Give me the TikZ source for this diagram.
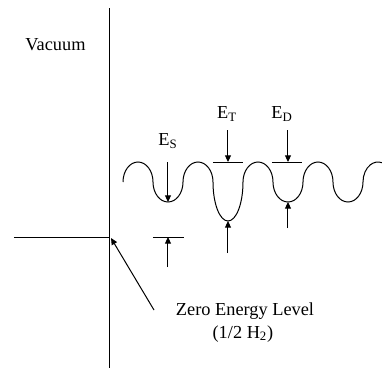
\documentclass[tikz,border=0pt]{standalone}
\usepackage{fontspec}
\setmainfont{Liberation Serif}
\usetikzlibrary{arrows.meta, positioning}

\begin{document}
\begin{tikzpicture}[
    x=0.6pt, y=0.6pt,
    line width=0.6pt,
    arrow/.style={-{Triangle[length=4pt, width=3.6pt]}},
    label/.style={font=\fontsize{11}{13.8}\selectfont, inner sep=0pt}
]
    \useasboundingbox (0,0) rectangle (382,-368);

    % Axis and zero level
    \coordinate (axtop) at (110,-8);
    \coordinate (axbot) at (110,-368);
    \coordinate (zero) at (110,-237);
    \coordinate (zeroleft) at (14,-237);
    \draw (axtop) -- (axbot);
    \draw (zeroleft) -- (zero);

    \node[label, anchor=base west] (vac) at (25,-50) {Vacuum};

    % Potential wells
    \draw (123,-182)
        arc[start angle=180, end angle=0, x radius=15, y radius=20]
        arc[start angle=180, end angle=360, x radius=15, y radius=20]
        arc[start angle=180, end angle=0, x radius=15, y radius=20]
        arc[start angle=180, end angle=360, x radius=15, y radius=39]
        arc[start angle=180, end angle=0, x radius=15, y radius=20]
        arc[start angle=180, end angle=360, x radius=15, y radius=20]
        arc[start angle=180, end angle=0, x radius=15, y radius=20]
        arc[start angle=180, end angle=360, x radius=15, y radius=20]
        arc[start angle=180, end angle=75, x radius=15, y radius=20];

    % E_S
    \node[label] (es) at (168,-141) {E\textsubscript{S}};
    \coordinate (estop) at (168,-162);
    \coordinate (esbot) at (168,-202);
    \coordinate (eslow) at (168,-267);
    \coordinate (eslevel) at (168,-237);
    \draw (153,-237) -- (184,-237);
    \draw[arrow] (estop) -- (esbot);
    \draw[arrow] (eslow) -- (eslevel);

    % E_T
    \node[label] (et) at (227,-114) {E\textsubscript{T}};
    \coordinate (ettop) at (228,-130);
    \coordinate (etlevel) at (228,-162);
    \coordinate (etlow) at (228,-253);
    \coordinate (etbot) at (228,-221);
    \draw (213,-162) -- (243,-162);
    \draw[arrow] (ettop) -- (etlevel);
    \draw[arrow] (etlow) -- (etbot);

    % E_D
    \node[label] (ed) at (282,-114) {E\textsubscript{D}};
    \coordinate (edtop) at (288,-130);
    \coordinate (edlevel) at (288,-162);
    \coordinate (edlow) at (288,-228);
    \coordinate (edbot) at (288,-202);
    \draw (272,-162) -- (302,-162);
    \draw[arrow] (edtop) -- (edlevel);
    \draw[arrow] (edlow) -- (edbot);

    % Zero energy label
    \node[label, anchor=base] (zel) at (245,-315) {Zero Energy Level};
    \node[label, anchor=base] (zelh) at (243,-338) {(1/2 H\textsubscript{2})};
    \coordinate (zeltail) at (154,-310);
    \coordinate (zeltip) at (111,-238);
    \draw[arrow] (zeltail) -- (zeltip);

\end{tikzpicture}
\end{document}
